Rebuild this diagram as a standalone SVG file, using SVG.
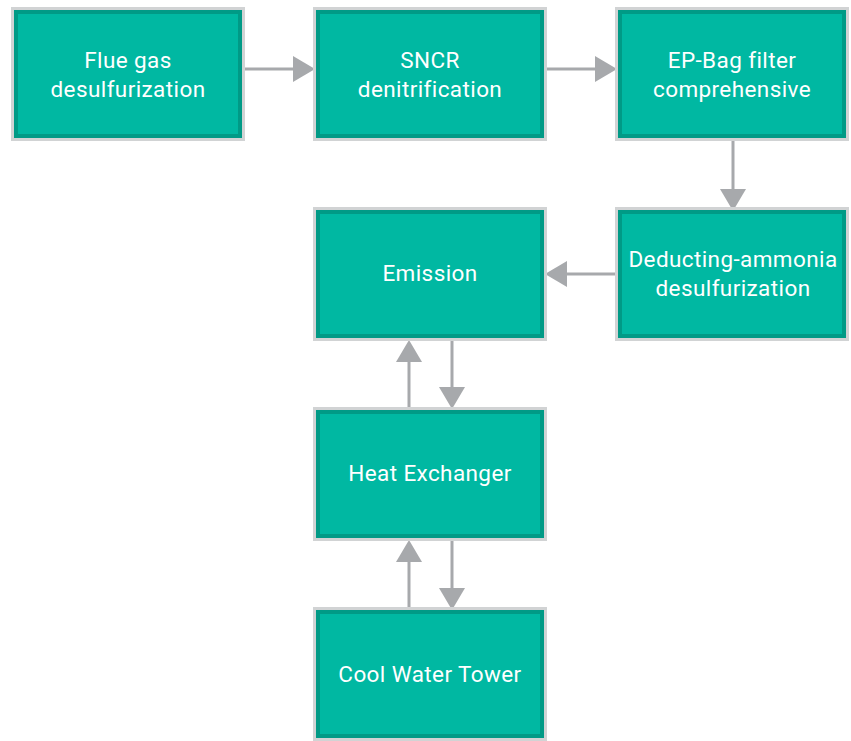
<svg xmlns="http://www.w3.org/2000/svg" width="851" height="741" viewBox="0 0 851 741">
<defs>
<style>
.o{fill:#d1d3d4}
.m{fill:#009a86}
.f{fill:#00b8a2}
.t{font-family:Roboto,"Liberation Sans",sans-serif;font-size:22.5px;fill:#ffffff;text-anchor:middle;letter-spacing:0.4px}
.c line{stroke:#a7a9ac;stroke-width:3}
.c polygon{fill:#a7a9ac}
</style>
</defs>
<g class="c" id="connectors">
<line x1="243" y1="69" x2="295" y2="69"/><polygon points="293,56 315,69 293,82"/>
<line x1="545" y1="69" x2="597" y2="69"/><polygon points="595,56 617,69 595,82"/>
<line x1="733" y1="139" x2="733" y2="191"/><polygon points="720,189 746,189 733,211"/>
<line x1="619" y1="274" x2="565" y2="274"/><polygon points="567,261 545,274 567,287"/>
<line x1="409" y1="409" x2="409" y2="360"/><polygon points="396,362 422,362 409,340"/>
<line x1="452" y1="337" x2="452" y2="389"/><polygon points="439,387 465,387 452,409"/>
<line x1="409" y1="610" x2="409" y2="560"/><polygon points="396,562 422,562 409,540"/>
<line x1="452" y1="538" x2="452" y2="590"/><polygon points="439,588 465,588 452,610"/>
</g>
<g id="n1"><rect class="o" x="11" y="7" width="234" height="134"/><rect class="m" x="14" y="10" width="228" height="128"/><rect class="f" x="18" y="14" width="220" height="120"/>
<text class="t" x="128" y="68">Flue gas</text><text class="t" x="128" y="97">desulfurization</text></g>
<g id="n2"><rect class="o" x="313" y="7" width="234" height="134"/><rect class="m" x="316" y="10" width="228" height="128"/><rect class="f" x="320" y="14" width="220" height="120"/>
<text class="t" x="430" y="68">SNCR</text><text class="t" x="430" y="97">denitrification</text></g>
<g id="n3"><rect class="o" x="615" y="7" width="234" height="134"/><rect class="m" x="618" y="10" width="228" height="128"/><rect class="f" x="622" y="14" width="220" height="120"/>
<text class="t" x="732" y="68">EP-Bag filter</text><text class="t" x="732" y="97">comprehensive</text></g>
<g id="n4"><rect class="o" x="615" y="207" width="234" height="134"/><rect class="m" x="618" y="210" width="228" height="128"/><rect class="f" x="622" y="214" width="220" height="120"/>
<text class="t" x="733" y="267">Deducting-ammonia</text><text class="t" x="733" y="296">desulfurization</text></g>
<g id="n5"><rect class="o" x="313" y="207" width="234" height="134"/><rect class="m" x="316" y="210" width="228" height="128"/><rect class="f" x="320" y="214" width="220" height="120"/>
<text class="t" x="430" y="281">Emission</text></g>
<g id="n6"><rect class="o" x="313" y="407" width="234" height="134"/><rect class="m" x="316" y="410" width="228" height="128"/><rect class="f" x="320" y="414" width="220" height="120"/>
<text class="t" x="430" y="481">Heat Exchanger</text></g>
<g id="n7"><rect class="o" x="313" y="607" width="234" height="134"/><rect class="m" x="316" y="610" width="228" height="128"/><rect class="f" x="320" y="614" width="220" height="120"/>
<text class="t" x="430" y="682">Cool Water Tower</text></g>
</svg>
